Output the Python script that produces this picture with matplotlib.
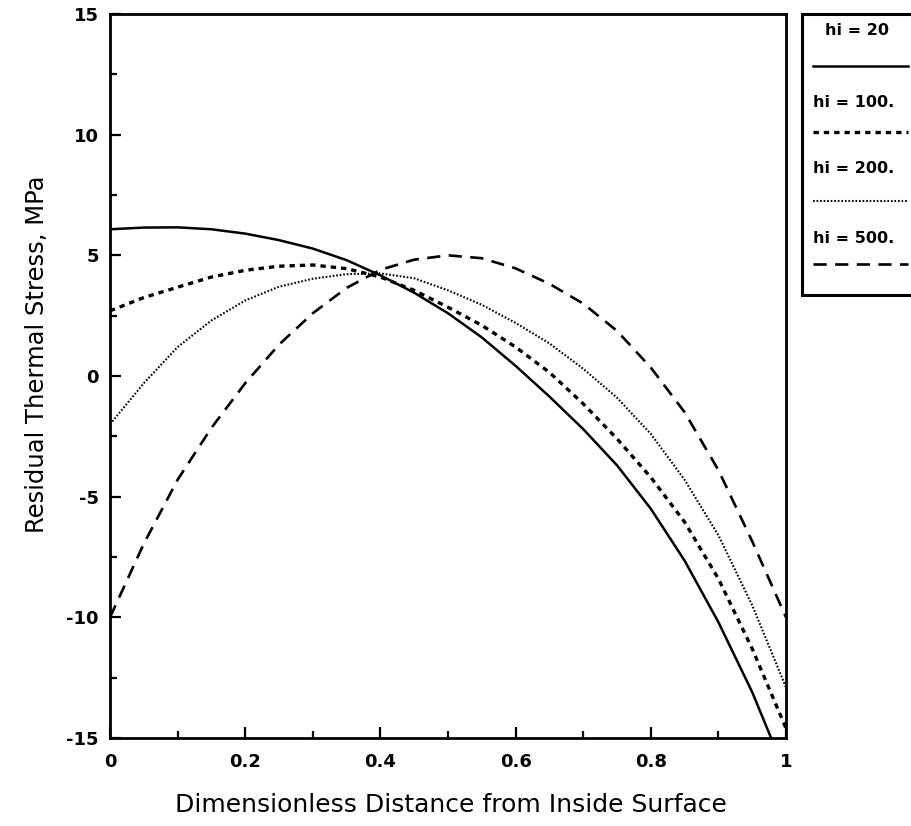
import matplotlib
matplotlib.use('Agg')
import matplotlib.pyplot as plt
import numpy as np

# distance from inside surface (dimensionless)
x_vals = [0.0, 0.05, 0.1, 0.15, 0.2, 0.25, 0.3, 0.35, 0.4, 0.45, 0.5,
          0.55, 0.6, 0.65, 0.7, 0.75, 0.8, 0.85, 0.9, 0.95, 1.0]
x_hi20 = x_vals[:-1] + [0.978]

# residual thermal stress, MPa
stress_hi20 = [6.08, 6.15, 6.16, 6.08, 5.9, 5.63, 5.28, 4.8, 4.17, 3.45, 2.6,
               1.6, 0.42, -0.85, -2.2, -3.7, -5.5, -7.65, -10.2, -13.1, -15.0]
stress_hi100 = [2.7, 3.25, 3.68, 4.1, 4.38, 4.55, 4.6, 4.45, 4.1, 3.55, 2.85,
                2.1, 1.2, 0.15, -1.15, -2.6, -4.2, -6.05, -8.4, -11.3, -14.6]
stress_hi200 = [-2.0, -0.3, 1.2, 2.3, 3.13, 3.7, 4.03, 4.22, 4.25, 4.05, 3.55,
                2.95, 2.2, 1.35, 0.3, -0.9, -2.4, -4.3, -6.6, -9.5, -12.9]
stress_hi500 = [-10.0, -6.95, -4.3, -2.15, -0.3, 1.3, 2.6, 3.65, 4.4, 4.82, 5.0,
                4.88, 4.46, 3.82, 3.0, 1.87, 0.35, -1.5, -3.9, -6.85, -10.0]

labels = ['hi = 20', 'hi = 100.', 'hi = 200.', 'hi = 500.']
x_ticks = [0, 0.2, 0.4, 0.6, 0.8, 1]
x_tick_labels = ['0', '0.2', '0.4', '0.6', '0.8', '1']
y_ticks = [-15, -10, -5, 0, 5, 10, 15]

styles = [
    dict(linestyle='-', linewidth=1.8),
    dict(linestyle=(0, (1.6, 1.5)), linewidth=2.4),
    dict(linestyle=(0, (0.8, 0.9)), linewidth=1.5),
    dict(linestyle=(0, (5.0, 3.2)), linewidth=1.9),
]

plt.rcParams['font.family'] = ['DejaVu Sans']

fig = plt.figure(figsize=(9.12, 8.26), dpi=100)
ax = fig.add_axes([110 / 912, 1 - 738 / 826, 676 / 912, 724 / 826])

series = [(x_hi20, stress_hi20), (x_vals, stress_hi100),
          (x_vals, stress_hi200), (x_vals, stress_hi500)]
for (xs, ys), st in zip(series, styles):
    ax.plot(xs, ys, color='black', dash_capstyle='butt',
            solid_joinstyle='round', **st)

ax.set_xlim(0, 1)
ax.set_ylim(-15, 15)
ax.set_xticks(x_ticks)
ax.set_xticklabels(x_tick_labels)
ax.set_xticks(np.arange(0.1, 1.0, 0.2), minor=True)
ax.set_yticks(y_ticks)
ax.set_yticklabels([str(v) for v in y_ticks])
ax.set_yticks(np.arange(-12.5, 15, 5), minor=True)
ax.tick_params(which='both', direction='in', width=1.6, labelsize=13)
ax.tick_params(which='major', length=8)
ax.tick_params(axis='x', which='major', pad=11)
ax.tick_params(axis='y', which='major', pad=8)
ax.tick_params(which='minor', length=5)
for lbl in ax.get_xticklabels() + ax.get_yticklabels():
    lbl.set_fontweight('bold')
for sp in ax.spines.values():
    sp.set_linewidth(2.0)

ax.set_xlabel('Dimensionless Distance from Inside Surface', fontsize=18)
ax.xaxis.set_label_coords(0.505, -0.076)
ax.set_ylabel('Residual Thermal Stress, MPa', fontsize=17.5)
ax.yaxis.set_label_coords(-0.09, 0.53)

# legend box: label text sits above each line sample
lax = fig.add_axes([802 / 912, 1 - 295 / 826, 120 / 912, 281 / 826])
lax.set_xlim(0, 1)
lax.set_ylim(0, 1)
lax.set_xticks([])
lax.set_yticks([])
for sp in lax.spines.values():
    sp.set_linewidth(2.2)

text_y = [0.94, 0.685, 0.45, 0.2]
line_y = [0.815, 0.58, 0.335, 0.11]
for i, (lab, st) in enumerate(zip(labels, styles)):
    if i == 0:
        lax.text(0.46, text_y[i], lab, ha='center', va='center', fontsize=11.5, fontweight='bold')
    else:
        lax.text(0.09, text_y[i], lab, ha='left', va='center', fontsize=11.5, fontweight='bold')
    lax.plot([0.09, 0.88], [line_y[i], line_y[i]], color='black', **st)

fig.savefig('out.png', dpi=100)
